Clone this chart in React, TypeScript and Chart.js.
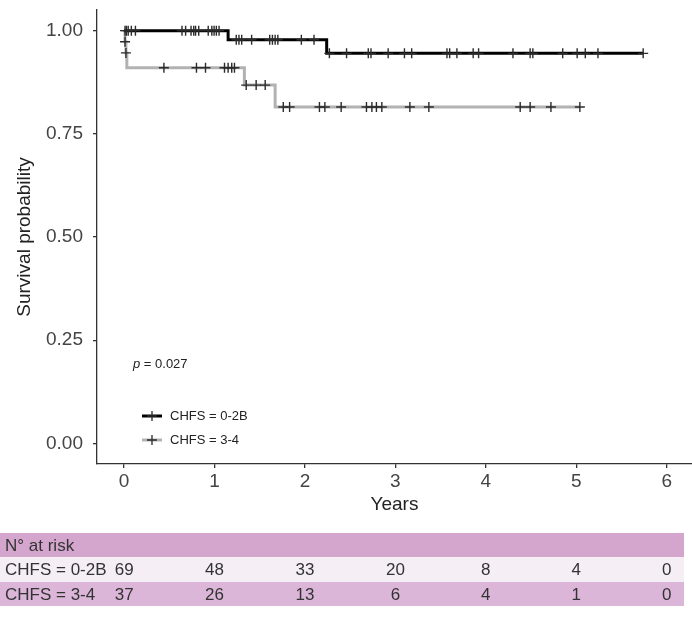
import React, { useEffect, useRef } from "react";
import { Chart, registerables } from "chart.js";
Chart.register(...registerables);

const FONT = '"Liberation Sans", Arial, sans-serif';

const groupLabels = ["CHFS = 0-2B", "CHFS = 3-4"];
const pValue = "0.027";

// Group 0-2B (black)
const blackTimes = [0, 1.15, 2.24, 5.74];
const blackSurv = [1, 0.978, 0.945, 0.945];
const blackCensor = [
  0.01, 0.025, 0.045, 0.08, 0.125, 0.64, 0.68, 0.74, 0.77, 0.79, 0.825, 0.93, 0.97, 0.995, 1.02, 1.05,
  1.24, 1.27, 1.3, 1.41, 1.61, 1.64, 1.67, 1.7, 1.96, 2.1,
  2.27, 2.46, 2.7, 2.73, 2.92, 3.1, 3.18, 3.57, 3.6, 3.68, 3.86, 3.92, 4.3, 4.49, 4.52, 4.85, 5.01, 5.1, 5.24, 5.74,
];

// Group 3-4 (grey)
const grayTimes = [0, 0.01, 0.02, 0.03, 1.33, 1.67, 5.04];
const graySurv = [1, 0.973, 0.946, 0.91, 0.868, 0.815, 0.815];
const grayCensor = [
  0.01, 0.02, 0.44, 0.8, 0.9, 1.11, 1.15, 1.19, 1.22, 1.35, 1.46, 1.56,
  1.76, 1.83, 2.16, 2.22, 2.4, 2.68, 2.74, 2.79, 2.85, 3.16, 3.37, 4.38, 4.49, 4.72, 5.04,
];

const xTicks = [0, 1, 2, 3, 4, 5, 6];
const yTicks = [0, 0.25, 0.5, 0.75, 1];
const riskTitle = "N° at risk";
const riskBlack = [69, 48, 33, 20, 8, 4, 0];
const riskGray = [37, 26, 13, 6, 4, 1, 0];

const BLACK = "#000000";
const GREY = "#B2B2B2";
const MARK = "#2b2b2b";

function survAt(times: number[], surv: number[], t: number) {
  let v = surv[0];
  for (let i = 0; i < times.length; i++) if (times[i] <= t) v = surv[i];
  return v;
}

function zeroPad(s: any) {
  s.paddingTop = 0;
  s.paddingBottom = 0;
  s.paddingLeft = 0;
  s.paddingRight = 0;
}

const overlayPlugin = {
  id: "overlay",
  afterDraw(chart: any) {
    const ctx = chart.ctx as CanvasRenderingContext2D;
    const xs = chart.scales.x;
    ctx.save();
    // p-value
    ctx.textBaseline = "middle";
    ctx.fillStyle = "#222";
    ctx.font = `italic 13px ${FONT}`;
    ctx.fillText("p", 133, 364);
    const pw = ctx.measureText("p").width;
    ctx.font = `13px ${FONT}`;
    ctx.fillText(" = " + pValue, 133 + pw, 364);

    // legend
    const items = [
      { label: groupLabels[0], color: BLACK, y: 416 },
      { label: groupLabels[1], color: GREY, y: 440 },
    ];
    items.forEach((it) => {
      ctx.strokeStyle = it.color;
      ctx.lineWidth = 3;
      ctx.beginPath();
      ctx.moveTo(142, it.y);
      ctx.lineTo(162, it.y);
      ctx.stroke();
      ctx.strokeStyle = MARK;
      ctx.lineWidth = 1.3;
      ctx.beginPath();
      ctx.moveTo(147, it.y);
      ctx.lineTo(157, it.y);
      ctx.moveTo(152, it.y - 5);
      ctx.lineTo(152, it.y + 5);
      ctx.stroke();
      ctx.fillStyle = "#222";
      ctx.font = `13px ${FONT}`;
      ctx.fillText(it.label, 170, it.y);
    });

    // risk table
    const rows = [
      { y0: 533, y1: 557, bg: "#D4A6CE", label: riskTitle, vals: null as number[] | null },
      { y0: 557, y1: 582, bg: "#F6EEF5", label: groupLabels[0], vals: riskBlack },
      { y0: 582, y1: 606, bg: "#DCB6D8", label: groupLabels[1], vals: riskGray },
    ];
    rows.forEach((r) => {
      ctx.fillStyle = r.bg;
      ctx.fillRect(0, r.y0, 684, r.y1 - r.y0);
      const cy = (r.y0 + r.y1) / 2 + 1;
      ctx.fillStyle = "#333";
      ctx.font = `17px ${FONT}`;
      ctx.textAlign = "left";
      ctx.fillText(r.label, 5, cy);
      if (r.vals) {
        ctx.textAlign = "center";
        r.vals.forEach((v, i) => {
          ctx.fillText(String(v), xs.getPixelForValue(xTicks[i]), cy);
        });
      }
    });
    ctx.restore();
  },
};

export default function App() {
  const ref = useRef<HTMLCanvasElement>(null);
  useEffect(() => {
    document.body.style.margin = "0";
    const canvas = ref.current!;
    const chart = new Chart(canvas, {
      type: "scatter",
      data: {
        datasets: [
          {
            label: groupLabels[0] + " censor",
            data: blackCensor.map((t) => ({ x: t, y: survAt(blackTimes, blackSurv, t) })),
            showLine: false,
            pointStyle: "cross",
            pointRadius: 5,
            pointBorderColor: MARK,
            pointBorderWidth: 1.4,
            order: 0,
          },
          {
            label: groupLabels[1] + " censor",
            data: grayCensor.map((t) => ({ x: t, y: survAt(grayTimes, graySurv, t) })),
            showLine: false,
            pointStyle: "cross",
            pointRadius: 5,
            pointBorderColor: MARK,
            pointBorderWidth: 1.4,
            order: 0,
          },
          {
            label: groupLabels[0],
            data: blackTimes.map((t, i) => ({ x: t, y: blackSurv[i] })),
            showLine: true,
            stepped: true,
            borderColor: BLACK,
            borderWidth: 3,
            pointRadius: 0,
            fill: false,
            order: 1,
          },
          {
            label: groupLabels[1],
            data: grayTimes.map((t, i) => ({ x: t, y: graySurv[i] })),
            showLine: true,
            stepped: true,
            borderColor: GREY,
            borderWidth: 3,
            pointRadius: 0,
            fill: false,
            order: 2,
          },
        ] as any,
      },
      options: {
        animation: false,
        responsive: false,
        devicePixelRatio: 1,
        layout: { autoPadding: false, padding: { top: 10, left: 0, right: 0, bottom: 101 } },
        plugins: { legend: { display: false }, tooltip: { enabled: false } },
        scales: {
          x: {
            type: "linear",
            min: -0.3,
            max: 6.28,
            afterBuildTicks: (s: any) => {
              s.ticks = xTicks.map((v) => ({ value: v }));
            },
            afterFit: (s: any) => {
              s.height = 52;
              zeroPad(s);
            },
            ticks: {
              font: { family: FONT, size: 19 },
              color: "#444",
              padding: 2,
              callback: (v: any) => String(v),
            },
            grid: { display: true, drawOnChartArea: false, drawTicks: true, tickLength: 4, color: "#333", lineWidth: 1.3 },
            border: { display: true, color: "#333", width: 1.3 },
            title: { display: true, text: "Years", font: { family: FONT, size: 19 }, color: "#222", padding: 0 },
          },
          y: {
            type: "linear",
            min: -0.05,
            max: 1.05,
            afterBuildTicks: (s: any) => {
              s.ticks = yTicks.map((v) => ({ value: v }));
            },
            afterFit: (s: any) => {
              s.width = 97;
              zeroPad(s);
            },
            ticks: {
              font: { family: FONT, size: 19 },
              color: "#444",
              padding: 10,
              callback: (v: any) => Number(v).toFixed(2),
            },
            grid: { display: true, drawOnChartArea: false, drawTicks: true, tickLength: 4, color: "#333", lineWidth: 1.3 },
            border: { display: true, color: "#333", width: 1.3 },
            title: {
              display: true,
              text: "Survival probability",
              font: { family: FONT, size: 19 },
              color: "#222",
              padding: { top: 13, bottom: 0 },
            },
          },
        },
      } as any,
      plugins: [overlayPlugin],
    });
    return () => chart.destroy();
  }, []);
  return (
    <div style={{ position: "absolute", left: 0, top: 0, width: 692, height: 617, background: "#fff" }}>
      <canvas ref={ref} width={692} height={617} style={{ display: "block" }} />
    </div>
  );
}
